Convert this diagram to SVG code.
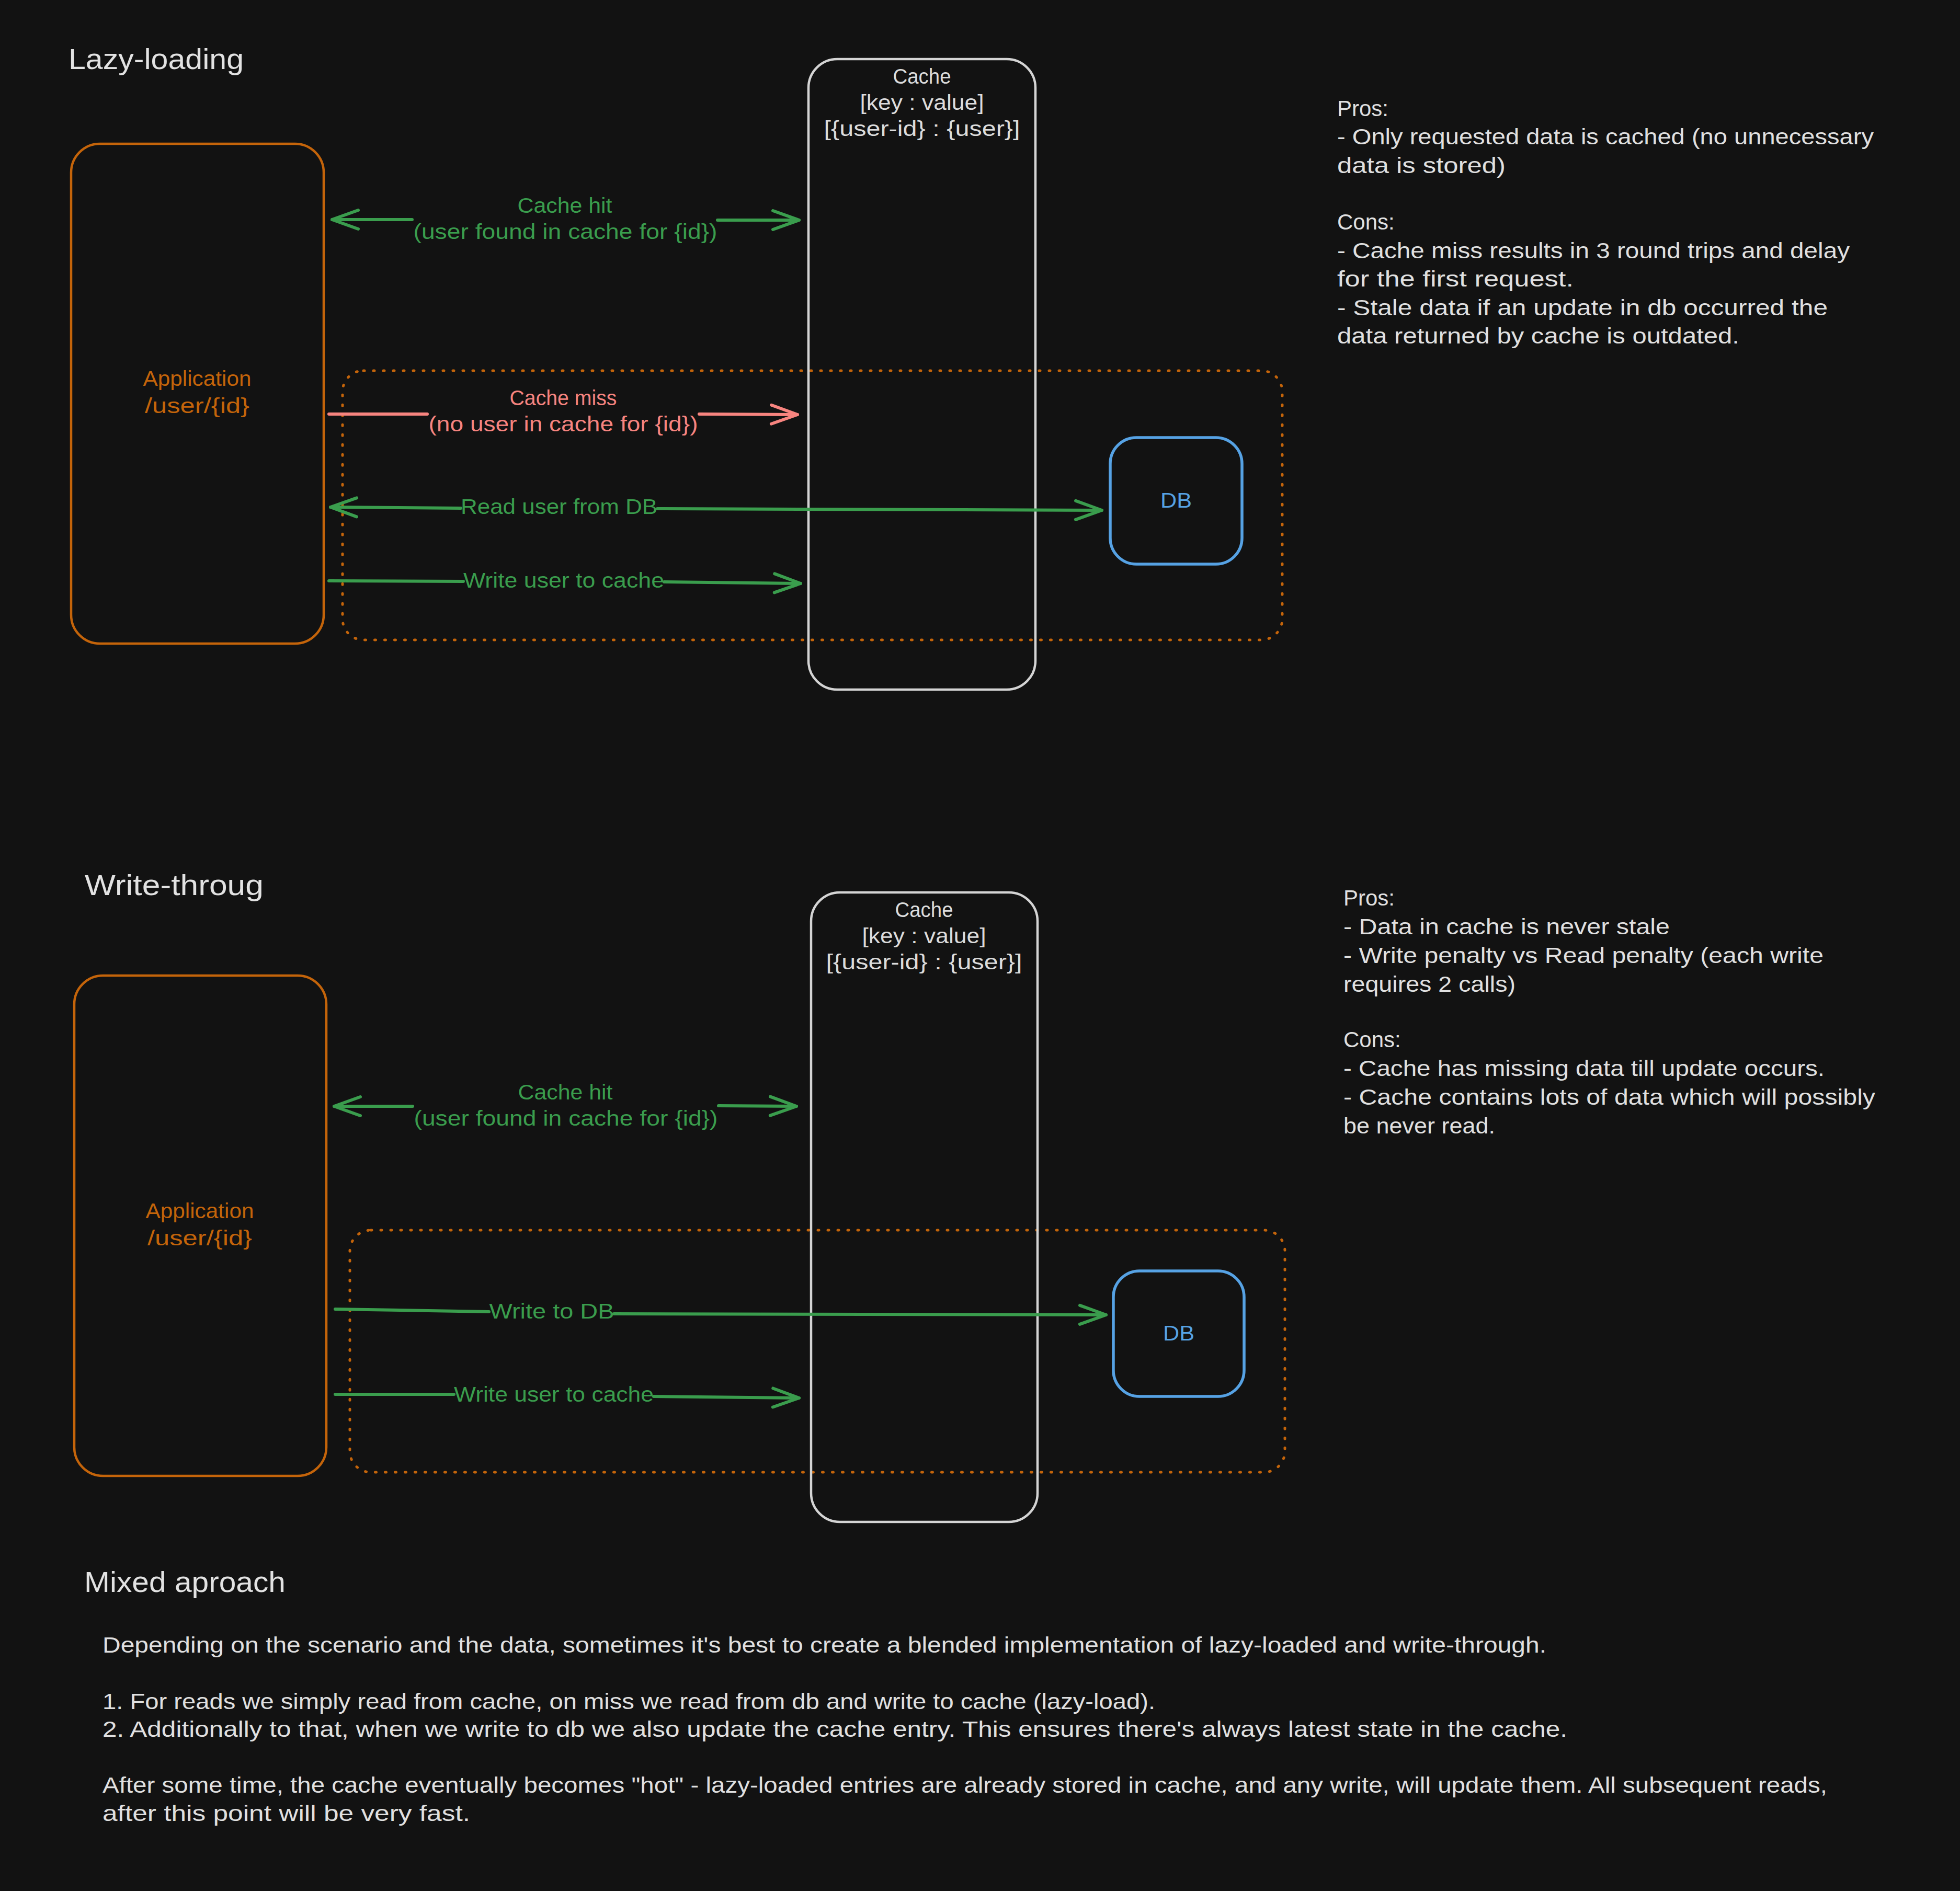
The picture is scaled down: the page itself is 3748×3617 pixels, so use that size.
<svg xmlns="http://www.w3.org/2000/svg" width="3748" height="3617" viewBox="0 0 3748 3617">
<style>
text{font-family:"Liberation Sans","DejaVu Sans",sans-serif}
.title{font-size:56px;fill:#e2e2e2}
.body{font-size:42px;fill:#e0e0e0}
.lbl{font-size:40px;text-anchor:middle}
.white{fill:#dcdcdc}
.orange{fill:#c4640a}
.green{fill:#3a9d4d}
.red{fill:#f7847f}
.blue{fill:#56a2e4}
.app{fill:none;stroke:#c4640a;stroke-width:4.5}
.cache{fill:none;stroke:#d4d4d4;stroke-width:4.5}
.db{fill:none;stroke:#56a2e4;stroke-width:5.5}
.group{fill:none;stroke:#c4640a;stroke-width:5;stroke-dasharray:2 17;stroke-linecap:round}
.ag{fill:none;stroke:#3a9d4d;stroke-width:6;stroke-linecap:round}
.ar{fill:none;stroke:#f7847f;stroke-width:6;stroke-linecap:round}
</style>
<defs>
<marker id="headG" viewBox="-56 -24 62 48" refX="0" refY="0" markerWidth="62" markerHeight="48" markerUnits="userSpaceOnUse" orient="auto-start-reverse"><path d="M-50,-18 L0,0 L-50,18" fill="none" stroke="#3a9d4d" stroke-width="6" stroke-linecap="round" stroke-linejoin="round"/></marker>
<marker id="headR" viewBox="-56 -24 62 48" refX="0" refY="0" markerWidth="62" markerHeight="48" markerUnits="userSpaceOnUse" orient="auto-start-reverse"><path d="M-50,-18 L0,0 L-50,18" fill="none" stroke="#f7847f" stroke-width="6" stroke-linecap="round" stroke-linejoin="round"/></marker>
</defs>
<rect x="0" y="0" width="3748" height="3617" fill="#121212"/>

<!-- Titles -->
<g id="titles">
<text class="title" x="131" y="132" textLength="335" lengthAdjust="spacingAndGlyphs">Lazy-loading</text>
<text class="title" x="162" y="1712" textLength="342" lengthAdjust="spacingAndGlyphs">Write-throug</text>
<text class="title" x="161" y="3045" textLength="385" lengthAdjust="spacingAndGlyphs">Mixed aproach</text>
</g>

<!-- Lazy-loading section -->
<g id="lazy-group">
<rect class="group" x="655" y="709" width="1797" height="515" rx="40"/>
</g>
<g id="lazy-app">
<rect class="app" x="136" y="275" width="483" height="956" rx="55"/>
<text class="lbl orange" x="377" y="738" textLength="207" lengthAdjust="spacingAndGlyphs">Application</text>
<text class="lbl orange" x="377" y="790" textLength="200" lengthAdjust="spacingAndGlyphs">/user/{id}</text>
</g>
<g id="lazy-cache">
<rect class="cache" x="1546" y="113" width="434" height="1206" rx="55"/>
<text class="lbl white" x="1763" y="160" textLength="111" lengthAdjust="spacingAndGlyphs">Cache</text>
<text class="lbl white" x="1763" y="210" textLength="237" lengthAdjust="spacingAndGlyphs">[key : value]</text>
<text class="lbl white" x="1763" y="260" textLength="375" lengthAdjust="spacingAndGlyphs">[{user-id} : {user}]</text>
</g>
<g id="lazy-db">
<rect class="db" x="2123" y="837" width="252" height="242" rx="50"/>
<text class="lbl blue" x="2249" y="971" textLength="60" lengthAdjust="spacingAndGlyphs">DB</text>
</g>
<g id="lazy-notes">
<text class="body" x="2557" y="222">Pros:</text>
<text class="body" x="2557" y="276" textLength="1026" lengthAdjust="spacingAndGlyphs">- Only requested data is cached (no unnecessary</text>
<text class="body" x="2557" y="331" textLength="322" lengthAdjust="spacingAndGlyphs">data is stored)</text>
<text class="body" x="2557" y="439">Cons:</text>
<text class="body" x="2557" y="494" textLength="980" lengthAdjust="spacingAndGlyphs">- Cache miss results in 3 round trips and delay</text>
<text class="body" x="2557" y="548" textLength="452" lengthAdjust="spacingAndGlyphs">for the first request.</text>
<text class="body" x="2557" y="603" textLength="938" lengthAdjust="spacingAndGlyphs">- Stale data if an update in db occurred the</text>
<text class="body" x="2557" y="657" textLength="769" lengthAdjust="spacingAndGlyphs">data returned by cache is outdated.</text>
</g>

<!-- Write-through section -->
<g id="wt-group">
<rect class="group" x="669" y="2353" width="1788" height="463" rx="40"/>
</g>
<g id="wt-app">
<rect class="app" x="142" y="1866" width="482" height="957" rx="55"/>
<text class="lbl orange" x="382" y="2330" textLength="207" lengthAdjust="spacingAndGlyphs">Application</text>
<text class="lbl orange" x="382" y="2382" textLength="200" lengthAdjust="spacingAndGlyphs">/user/{id}</text>
</g>
<g id="wt-cache">
<rect class="cache" x="1551" y="1707" width="433" height="1204" rx="55"/>
<text class="lbl white" x="1767" y="1754" textLength="111" lengthAdjust="spacingAndGlyphs">Cache</text>
<text class="lbl white" x="1767" y="1804" textLength="237" lengthAdjust="spacingAndGlyphs">[key : value]</text>
<text class="lbl white" x="1767" y="1854" textLength="375" lengthAdjust="spacingAndGlyphs">[{user-id} : {user}]</text>
</g>
<g id="wt-db">
<rect class="db" x="2129" y="2431" width="250" height="240" rx="50"/>
<text class="lbl blue" x="2254" y="2564" textLength="60" lengthAdjust="spacingAndGlyphs">DB</text>
</g>
<g id="wt-notes">
<text class="body" x="2569" y="1732">Pros:</text>
<text class="body" x="2569" y="1787" textLength="624" lengthAdjust="spacingAndGlyphs">- Data in cache is never stale</text>
<text class="body" x="2569" y="1842" textLength="918" lengthAdjust="spacingAndGlyphs">- Write penalty vs Read penalty (each write</text>
<text class="body" x="2569" y="1897" textLength="329" lengthAdjust="spacingAndGlyphs">requires 2 calls)</text>
<text class="body" x="2569" y="2003">Cons:</text>
<text class="body" x="2569" y="2058" textLength="920" lengthAdjust="spacingAndGlyphs">- Cache has missing data till update occurs.</text>
<text class="body" x="2569" y="2113" textLength="1017" lengthAdjust="spacingAndGlyphs">- Cache contains lots of data which will possibly</text>
<text class="body" x="2569" y="2168" textLength="290" lengthAdjust="spacingAndGlyphs">be never read.</text>
</g>

<!-- Mixed approach -->
<g id="mixed-notes">
<text class="body" x="196" y="3161" textLength="2761" lengthAdjust="spacingAndGlyphs">Depending on the scenario and the data, sometimes it's best to create a blended implementation of lazy-loaded and write-through.</text>
<text class="body" x="196" y="3269" textLength="2013" lengthAdjust="spacingAndGlyphs">1. For reads we simply read from cache, on miss we read from db and write to cache (lazy-load).</text>
<text class="body" x="196" y="3322" textLength="2801" lengthAdjust="spacingAndGlyphs">2. Additionally to that, when we write to db we also update the cache entry. This ensures there's always latest state in the cache.</text>
<text class="body" x="196" y="3429" textLength="3298" lengthAdjust="spacingAndGlyphs">After some time, the cache eventually becomes "hot" - lazy-loaded entries are already stored in cache, and any write, will update them. All subsequent reads,</text>
<text class="body" x="196" y="3483" textLength="703" lengthAdjust="spacingAndGlyphs">after this point will be very fast.</text>
</g>

<!-- Connectors -->
<g id="connectors">
<!-- lazy: cache hit -->
<path class="ag" d="M635,420 L788,420" marker-start="url(#headG)"/>
<path class="ag" d="M1372,421 L1528,421" marker-end="url(#headG)"/>
<text class="lbl green" x="1080" y="407" textLength="181" lengthAdjust="spacingAndGlyphs">Cache hit</text>
<text class="lbl green" x="1081" y="457" textLength="581" lengthAdjust="spacingAndGlyphs">(user found in cache for {id})</text>
<!-- lazy: cache miss -->
<path class="ar" d="M629,792 L817,792"/>
<path class="ar" d="M1337,792 L1525,793" marker-end="url(#headR)"/>
<text class="lbl red" x="1077" y="775" textLength="205" lengthAdjust="spacingAndGlyphs">Cache miss</text>
<text class="lbl red" x="1077" y="825" textLength="515" lengthAdjust="spacingAndGlyphs">(no user in cache for {id})</text>
<!-- lazy: read user from DB -->
<path class="ag" d="M632,970 L881,972" marker-start="url(#headG)"/>
<path class="ag" d="M1257,973 L2107,976" marker-end="url(#headG)"/>
<text class="lbl green" x="1069" y="983" textLength="376" lengthAdjust="spacingAndGlyphs">Read user from DB</text>
<!-- lazy: write user to cache -->
<path class="ag" d="M629,1111 L886,1112"/>
<path class="ag" d="M1270,1113 L1531,1116" marker-end="url(#headG)"/>
<text class="lbl green" x="1078" y="1124" textLength="384" lengthAdjust="spacingAndGlyphs">Write user to cache</text>

<!-- write-through: cache hit -->
<path class="ag" d="M639,2116 L789,2116" marker-start="url(#headG)"/>
<path class="ag" d="M1374,2115 L1523,2116" marker-end="url(#headG)"/>
<text class="lbl green" x="1081" y="2103" textLength="181" lengthAdjust="spacingAndGlyphs">Cache hit</text>
<text class="lbl green" x="1082" y="2153" textLength="581" lengthAdjust="spacingAndGlyphs">(user found in cache for {id})</text>
<!-- write-through: write to DB -->
<path class="ag" d="M641,2504 L935,2509"/>
<path class="ag" d="M1174,2513 L2115,2515" marker-end="url(#headG)"/>
<text class="lbl green" x="1055" y="2522" textLength="239" lengthAdjust="spacingAndGlyphs">Write to DB</text>
<!-- write-through: write user to cache -->
<path class="ag" d="M641,2667 L868,2667"/>
<path class="ag" d="M1250,2671 L1528,2674" marker-end="url(#headG)"/>
<text class="lbl green" x="1059" y="2681" textLength="382" lengthAdjust="spacingAndGlyphs">Write user to cache</text>
</g>
</svg>
